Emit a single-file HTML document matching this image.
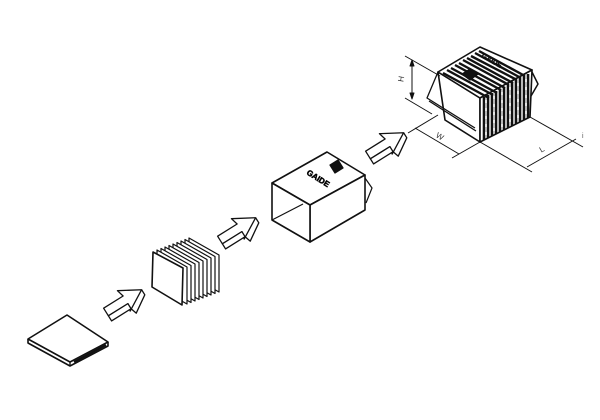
<!DOCTYPE html>
<html><head><style>
html,body{margin:0;padding:0;background:#fff;width:600px;height:420px;overflow:hidden}
svg{display:block}
</style></head><body>
<svg width="600" height="420" viewBox="0 0 600 420" xmlns="http://www.w3.org/2000/svg" fill="none" stroke="#111" stroke-width="1.3" stroke-linejoin="round">
<defs>
<g id="arr">
<polygon points="0,-4.5 23,-4.5 21,-12 42,0 21,12 23,4.5 0,4.5" fill="#fff"/>
<polygon points="0,4.5 0,10.5 23,10.5 23,4.5" fill="#fff"/>
<polyline points="23,10.5 25,17 42,6 42,0"/>
</g>
</defs>
<!-- plate -->
<polygon points="28,339 67,315 108,342 70,362" fill="#fff" stroke-width="1.6"/>
<polyline points="28,339 28,343 70,366 108,346 108,342" stroke-width="1.6"/>
<line x1="70" y1="362" x2="70" y2="366"/>
<line x1="74" y1="362" x2="106" y2="345" stroke-width="2.2"/>
<!-- arrows -->
<use href="#arr" transform="translate(106,312) rotate(-32)"/>
<use href="#arr" transform="translate(220,240) rotate(-32)"/>
<use href="#arr" transform="translate(368,155) rotate(-32)"/>
<!-- comb block -->
<g fill="#fff" stroke-width="1.2">
<polygon points="189,238 219,255 219,292 189,275"/>
<polygon points="185,239.5 215,256.5 215,293.5 185,276.5"/>
<polygon points="181,241 211,258 211,295 181,278"/>
<polygon points="177,242.5 207,259.5 207,296.5 177,279.5"/>
<polygon points="173,244 203,261 203,298 173,281"/>
<polygon points="169,245.5 199,262.5 199,299.5 169,282.5"/>
<polygon points="165,247 195,264 195,301 165,284"/>
<polygon points="161,248.5 191,265.5 191,302.5 161,285.5"/>
<polygon points="157,250 187,267 187,304 157,287"/>
<polygon points="153,252 183,268 182,305 152,287" stroke-width="1.6"/>
</g>
<!-- box -->
<g stroke-width="1.6">
<polygon points="272,183 327,152 365,175 310,205" fill="#fff"/>
<polygon points="310,205 365,175 365,210 310,242" fill="#fff"/>
<polygon points="272,183 310,205 310,242 272,220" fill="#fff"/>
<line x1="272" y1="220" x2="303" y2="204" stroke-width="1.2"/>
<polyline points="365,178 372,188 366,203" stroke-width="1.2"/>
</g>
<polygon points="330,165 338,160 343,168 335,173" fill="#111"/>
<text x="0" y="0" transform="translate(306,174) rotate(32)" font-family="Liberation Sans, sans-serif" font-size="8" font-weight="bold" fill="#000" stroke="#000" stroke-width="0.5">GAIDE</text>
<!-- final unit -->
<g stroke-width="1.6">
<polygon points="438,72 480,98 480,142 445,120" fill="#fff"/>
<polygon points="438,72 480,47 532,70 480,98" fill="#fff"/>
<polygon points="480,98 532,70 530,117 480,142" fill="#fff"/>
<polyline points="438,72 427,98 475,128" stroke-width="1.3"/>
<line x1="429" y1="101" x2="476" y2="131" stroke-width="1.3"/>
<polyline points="532,72 538,84 531,96" stroke-width="1.5"/>
</g>
<g stroke="#111" stroke-width="2.4">
<line x1="443" y1="73" x2="489" y2="98"/>
<line x1="447" y1="70" x2="493" y2="95"/>
<line x1="451" y1="68" x2="497" y2="93"/>
<line x1="455" y1="65" x2="501" y2="90"/>
<line x1="459" y1="63" x2="505" y2="88"/>
<line x1="463" y1="60" x2="509" y2="85"/>
<line x1="467" y1="58" x2="513" y2="83"/>
<line x1="471" y1="56" x2="517" y2="80"/>
<line x1="475" y1="53" x2="521" y2="78"/>
<line x1="479" y1="51" x2="525" y2="76"/>
</g>
<polygon points="462,74 470,69 478,74 470,80" fill="#111"/>
<text transform="translate(481,57) rotate(30)" font-family="Liberation Sans, sans-serif" font-size="7" font-weight="bold" fill="#111" stroke="#111" stroke-width="0.4">GAIDE</text>
<g stroke="#111" stroke-width="2.6">
<line x1="484" y1="97" x2="484" y2="140"/>
<line x1="488" y1="95" x2="488" y2="138"/>
<line x1="492" y1="93" x2="492" y2="136"/>
<line x1="496" y1="91" x2="496" y2="134"/>
<line x1="500" y1="89" x2="500" y2="132"/>
<line x1="504" y1="87" x2="504" y2="130"/>
<line x1="508" y1="85" x2="508" y2="128"/>
<line x1="512" y1="82" x2="512" y2="126"/>
<line x1="516" y1="80" x2="516" y2="124"/>
<line x1="520" y1="78" x2="520" y2="122"/>
<line x1="524" y1="76" x2="524" y2="120"/>
<line x1="528" y1="74" x2="528" y2="118"/>
</g>
<g stroke="#fff" stroke-width="1.6" stroke-dasharray="3 5">
<line x1="486" y1="100" x2="486" y2="137"/>
<line x1="494" y1="96" x2="494" y2="133"/>
<line x1="502" y1="92" x2="502" y2="129"/>
<line x1="510" y1="87" x2="510" y2="125"/>
<line x1="518" y1="83" x2="518" y2="121"/>
<line x1="526" y1="79" x2="526" y2="117"/>
</g>
<!-- dimensions -->
<g stroke-width="1">
<line x1="405" y1="56" x2="440" y2="76"/>
<line x1="405" y1="98" x2="432" y2="114"/>
<line x1="412" y1="60" x2="412" y2="99"/>
<polygon points="412,60 410,66 414,66" fill="#111"/>
<polygon points="412,99 410,93 414,93" fill="#111"/>
<line x1="438" y1="115" x2="408" y2="133"/>
<line x1="480" y1="142" x2="452" y2="158"/>
<line x1="415" y1="128" x2="459" y2="154"/>
<line x1="480" y1="142" x2="532" y2="172"/>
<line x1="530" y1="117" x2="583" y2="147"/>
<line x1="527" y1="167" x2="576" y2="139"/>
</g>
<text x="398" y="80" font-family="Liberation Sans, sans-serif" font-size="8" fill="#333" stroke="none" transform="rotate(-80 402 78)">H</text>
<text x="436" y="138" font-family="Liberation Sans, sans-serif" font-size="8" fill="#333" stroke="none" transform="rotate(30 438 136)">W</text>
<text x="540" y="152" font-family="Liberation Sans, sans-serif" font-size="8" fill="#333" stroke="none" transform="rotate(-30 542 150)">L</text>
<text x="582" y="138" font-family="Liberation Sans, sans-serif" font-size="7" fill="#555" stroke="none">i</text>
</svg>
</body></html>
